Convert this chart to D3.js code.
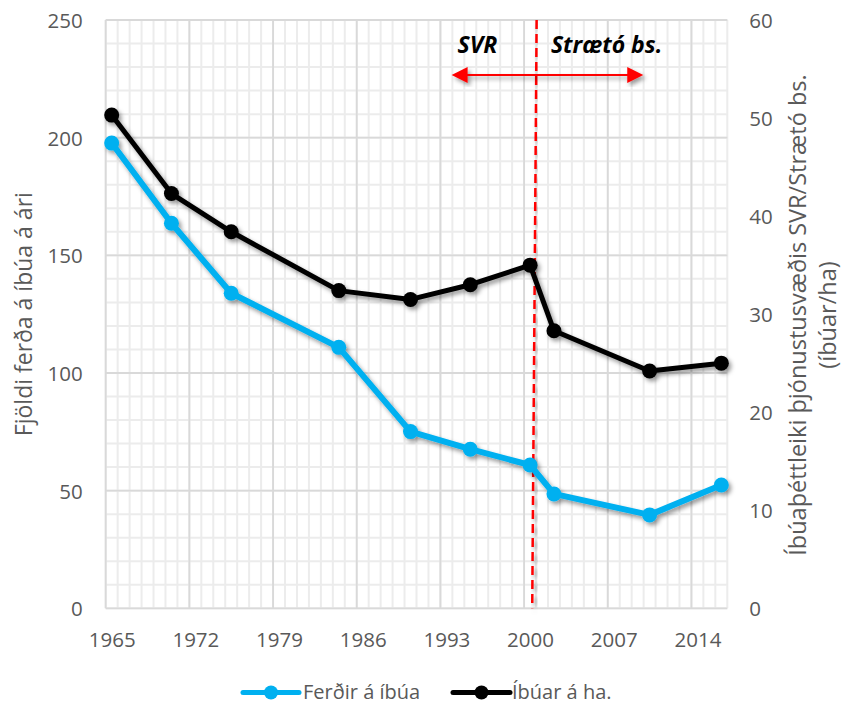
<!DOCTYPE html>
<html>
<head>
<meta charset="utf-8">
<script src="https://cdn.jsdelivr.net/npm/d3@7"></script>
<style>
  html, body { margin: 0; padding: 0; background: #fff; }
  svg { display: block; font-family: "Open Sans", sans-serif; }
</style>
</head>
<body>
<svg id="chart" width="843" height="704"></svg>
<script>
// ---- Data ----
const years = [1965, 1970, 1975, 1984, 1990, 1995, 2000, 2002, 2010, 2016];
const ferdirAIbua = [197.7, 163.6, 133.9, 110.9, 75.1, 67.6, 60.9, 48.6, 39.7, 52.4];
const ibuarAHa = [50.3, 42.3, 38.4, 32.4, 31.5, 33.0, 35.0, 28.3, 24.2, 25.0];
const xTickLabels = [1965, 1972, 1979, 1986, 1993, 2000, 2007, 2014];
const leftTicks = [0, 50, 100, 150, 200, 250];
const rightTicks = [0, 10, 20, 30, 40, 50, 60];
const seriesNames = ["Ferðir á íbúa", "Íbúar á ha."];
const leftTitle = "Fjöldi ferða á íbúa á ári";
const rightTitleLines = ["Íbúaþéttleiki þjónustusvæðis SVR/Strætó bs.", "(íbúar/ha)"];
const annotationLabels = ["SVR", "Strætó bs."];

// ---- Layout ----
const W = 843, H = 704;
const plot = { left: 105.7, right: 727.3, top: 20, bottom: 608.3 };
const blue = "#00b0f0";

const svg = d3.select("#chart");

const x = d3.scaleLinear().domain([1964.5, 2016.5]).range([plot.left, plot.right]);
const yL = d3.scaleLinear().domain([0, 250]).range([plot.bottom, plot.top]);
const yR = d3.scaleLinear().domain([0, 60]).range([plot.bottom, plot.top]);

// Filters
const defs = svg.append("defs");
const f = defs.append("filter").attr("id", "shadow").attr("x", "-10%").attr("y", "-10%").attr("width", "130%").attr("height", "130%");
f.append("feDropShadow").attr("dx", 2.5).attr("dy", 3).attr("stdDeviation", 2).attr("flood-color", "#000").attr("flood-opacity", 0.4);

// ---- Gridlines ----
const grid = svg.append("g");
const minorX = d3.range(1964.5, 2016.6, 1);
const minorY = d3.range(0, 251, 10);
grid.selectAll("line.mx").data(minorX).enter().append("line")
  .attr("x1", d => x(d)).attr("x2", d => x(d))
  .attr("y1", plot.top).attr("y2", plot.bottom)
  .attr("stroke", "#ececec").attr("stroke-width", 2);
grid.selectAll("line.my").data(minorY).enter().append("line")
  .attr("y1", d => yL(d)).attr("y2", d => yL(d))
  .attr("x1", plot.left).attr("x2", plot.right)
  .attr("stroke", "#ececec").attr("stroke-width", 2);
const majorX = d3.range(1964.5, 2016.6, 7);
grid.selectAll("line.Mx").data(majorX).enter().append("line")
  .attr("x1", d => x(d)).attr("x2", d => x(d))
  .attr("y1", plot.top).attr("y2", plot.bottom)
  .attr("stroke", "#d9d9d9").attr("stroke-width", 1.8);
grid.selectAll("line.My").data(leftTicks).enter().append("line")
  .attr("y1", d => yL(d)).attr("y2", d => yL(d))
  .attr("x1", plot.left).attr("x2", plot.right)
  .attr("stroke", "#d9d9d9").attr("stroke-width", 1.8);

// ---- Axes ----
const axisFont = 20.5, axisColor = "#595959";
const gx = svg.append("g").attr("transform", `translate(0,${plot.bottom})`)
  .call(d3.axisBottom(x).tickValues(xTickLabels).tickFormat(d3.format("d")).tickSize(0).tickPadding(24));
const gl = svg.append("g").attr("transform", `translate(${plot.left},0)`)
  .call(d3.axisLeft(yL).tickValues(leftTicks).tickSize(0).tickPadding(23));
const gr = svg.append("g").attr("transform", `translate(${plot.right},0)`)
  .call(d3.axisRight(yR).tickValues(rightTicks).tickSize(0).tickPadding(22));
[gx, gl, gr].forEach(g => {
  g.select(".domain").remove();
  g.selectAll("text").attr("font-size", axisFont).attr("fill", axisColor)
    .attr("font-family", '"Open Sans", sans-serif');
});
gl.selectAll("text").attr("dy", "0.36em");
gr.selectAll("text").attr("dy", "0.36em");

// Axis titles
svg.append("text")
  .attr("transform", `translate(32,${(plot.top + plot.bottom) / 2}) rotate(-90)`)
  .attr("text-anchor", "middle").attr("font-size", 23).attr("fill", axisColor)
  .text(leftTitle);
svg.append("text")
  .attr("transform", `translate(806,315) rotate(-90)`)
  .attr("text-anchor", "middle").attr("font-size", 23.5).attr("fill", axisColor)
  .text(rightTitleLines[0]);
svg.append("text")
  .attr("transform", `translate(836,315) rotate(-90)`)
  .attr("text-anchor", "middle").attr("font-size", 23.5).attr("fill", axisColor)
  .text(rightTitleLines[1]);

// ---- Annotation: dashed vertical line ----
svg.append("line")
  .attr("x1", x(2000.55)).attr("y1", yL(250))
  .attr("x2", x(2000.18)).attr("y2", yL(0))
  .attr("stroke", "#ff0000").attr("stroke-width", 2.5)
  .attr("stroke-dasharray", "9,5")
  .attr("filter", "url(#shadow)");

// ---- Double-headed arrow ----
const arrowY = yL(226.6);
const ax1 = x(1993.44), ax2 = x(2009.47);
const headL = 16, headW = 8;
const arrowG = svg.append("g").attr("filter", "url(#shadow)");
arrowG.append("line")
  .attr("x1", ax1 + headL - 2).attr("x2", ax2 - headL + 2)
  .attr("y1", arrowY).attr("y2", arrowY)
  .attr("stroke", "#ff0000").attr("stroke-width", 2);
arrowG.append("path")
  .attr("d", `M${ax1},${arrowY}L${ax1 + headL},${arrowY - headW}L${ax1 + headL},${arrowY + headW}Z`)
  .attr("fill", "#ff0000");
arrowG.append("path")
  .attr("d", `M${ax2},${arrowY}L${ax2 - headL},${arrowY - headW}L${ax2 - headL},${arrowY + headW}Z`)
  .attr("fill", "#ff0000");

svg.append("text").attr("x", x(1995.6)).attr("y", yL(236))
  .attr("text-anchor", "middle").attr("font-size", 23).attr("font-weight", "bold")
  .attr("font-style", "italic").attr("fill", "#000").text(annotationLabels[0]);
svg.append("text").attr("x", x(2006.4)).attr("y", yL(236))
  .attr("text-anchor", "middle").attr("font-size", 23).attr("font-weight", "bold")
  .attr("font-style", "italic").attr("fill", "#000").text(annotationLabels[1]);

// ---- Series ----
const dataBlue = years.map((yr, i) => ({ yr, v: ferdirAIbua[i] }));
const dataBlack = years.map((yr, i) => ({ yr, v: ibuarAHa[i] }));

function drawSeries(data, yScale, color, lw, r) {
  const g = svg.append("g").attr("filter", "url(#shadow)");
  g.append("path").datum(data)
    .attr("d", d3.line().x(d => x(d.yr)).y(d => yScale(d.v)))
    .attr("fill", "none").attr("stroke", color).attr("stroke-width", lw)
    .attr("stroke-linejoin", "round");
  g.selectAll("circle").data(data).enter().append("circle")
    .attr("cx", d => x(d.yr)).attr("cy", d => yScale(d.v)).attr("r", r)
    .attr("fill", color);
}
drawSeries(dataBlue, yL, blue, 6, 7.5);
drawSeries(dataBlack, yR, "#000", 5, 7.5);

// ---- Legend ----
const legendY = 692.5;
const legend = [
  { name: seriesNames[0], color: blue, x0: 243, x1: 299, tx: 303, lw: 5 },
  { name: seriesNames[1], color: "#000", x0: 453, x1: 510, tx: 512, lw: 5 }
];
legend.forEach(l => {
  svg.append("line").attr("x1", l.x0).attr("x2", l.x1).attr("y1", legendY).attr("y2", legendY)
    .attr("stroke", l.color).attr("stroke-width", l.lw).attr("stroke-linecap", "round");
  svg.append("circle").attr("cx", (l.x0 + l.x1) / 2).attr("cy", legendY).attr("r", 7).attr("fill", l.color);
  svg.append("text").attr("x", l.tx).attr("y", legendY + 6.5).attr("font-size", 20)
    .attr("fill", axisColor).text(l.name);
});
</script>
</body>
</html>
